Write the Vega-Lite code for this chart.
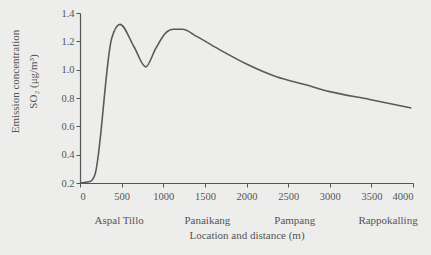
{
  "$schema": "https://vega.github.io/schema/vega-lite/v6.json",
  "width": 333,
  "height": 170,
  "autosize": {"type": "none"},
  "padding": {"left": 80, "top": 13, "right": 18, "bottom": 72},
  "background": "#ededeb",
  "config": {
    "view": {"stroke": null},
    "font": "Liberation Serif",
    "axis": {
      "grid": false,
      "domainColor": "#555555",
      "tickColor": "#555555",
      "labelColor": "#555555",
      "titleColor": "#555555",
      "labelFont": "Liberation Serif",
      "titleFont": "Liberation Serif",
      "labelFontSize": 10.5,
      "titleFontSize": 11,
      "titleFontWeight": "normal",
      "tickSize": 4,
      "domainWidth": 1.2,
      "labelOverlap": false
    }
  },
  "layer": [
    {
      "data": {
        "values": [
          {"d": 0, "c": 0.2},
          {"d": 120, "c": 0.21},
          {"d": 180, "c": 0.26},
          {"d": 380, "c": 1.22},
          {"d": 480, "c": 1.32},
          {"d": 650, "c": 1.16},
          {"d": 790, "c": 1.02},
          {"d": 910, "c": 1.15},
          {"d": 1030, "c": 1.26},
          {"d": 1120, "c": 1.285},
          {"d": 1230, "c": 1.285},
          {"d": 1400, "c": 1.235},
          {"d": 1680, "c": 1.14},
          {"d": 2000, "c": 1.04},
          {"d": 2360, "c": 0.95},
          {"d": 2700, "c": 0.895},
          {"d": 3000, "c": 0.845},
          {"d": 3480, "c": 0.79},
          {"d": 3980, "c": 0.73}
        ]
      },
      "mark": {"type": "line", "color": "#5a5a5a", "strokeWidth": 1.6, "interpolate": "monotone"},
      "encoding": {
        "x": {
          "field": "d",
          "type": "quantitative",
          "scale": {"domain": [0, 4000]},
          "axis": {
            "values": [0, 500, 1000, 1500, 2000, 2500, 3000, 3500, 4000],
            "format": "d",
            "title": "Location and distance (m)",
            "titlePadding": 28,
            "labelPadding": 4
          }
        },
        "y": {
          "field": "c",
          "type": "quantitative",
          "scale": {"domain": [0.2, 1.4]},
          "axis": {
            "values": [0.2, 0.4, 0.6, 0.8, 1.0, 1.2, 1.4],
            "tickCount": 7,
            "format": ".1f",
            "labelOverlap": false,
            "title": ["Emission concentration", "SO₂ (μg/m³)"],
            "titleLineHeight": 18,
            "titlePadding": 22,
            "titleY": 68,
            "labelPadding": 2
          }
        }
      }
    },
    {
      "data": {
        "values": [
          {"name": "Aspal Tillo", "d": 470},
          {"name": "Panaikang", "d": 1530},
          {"name": "Pampang", "d": 2580},
          {"name": "Rappokalling", "d": 3700}
        ]
      },
      "mark": {"type": "text", "font": "Liberation Serif", "fontSize": 11, "fill": "#555555", "baseline": "middle"},
      "encoding": {
        "x": {
          "field": "d",
          "type": "quantitative",
          "axis": {
            "values": [0, 500, 1000, 1500, 2000, 2500, 3000, 3500, 4000],
            "format": "d",
            "title": "Location and distance (m)",
            "titlePadding": 28,
            "labelPadding": 4
          }
        },
        "y": {
          "datum": -0.068,
          "type": "quantitative",
          "axis": {
            "values": [0.2, 0.4, 0.6, 0.8, 1.0, 1.2, 1.4],
            "tickCount": 7,
            "format": ".1f",
            "labelOverlap": false,
            "title": ["Emission concentration", "SO₂ (μg/m³)"],
            "titleLineHeight": 18,
            "titlePadding": 22,
            "titleY": 68,
            "labelPadding": 2
          }
        },
        "text": {"field": "name"}
      }
    }
  ]
}
